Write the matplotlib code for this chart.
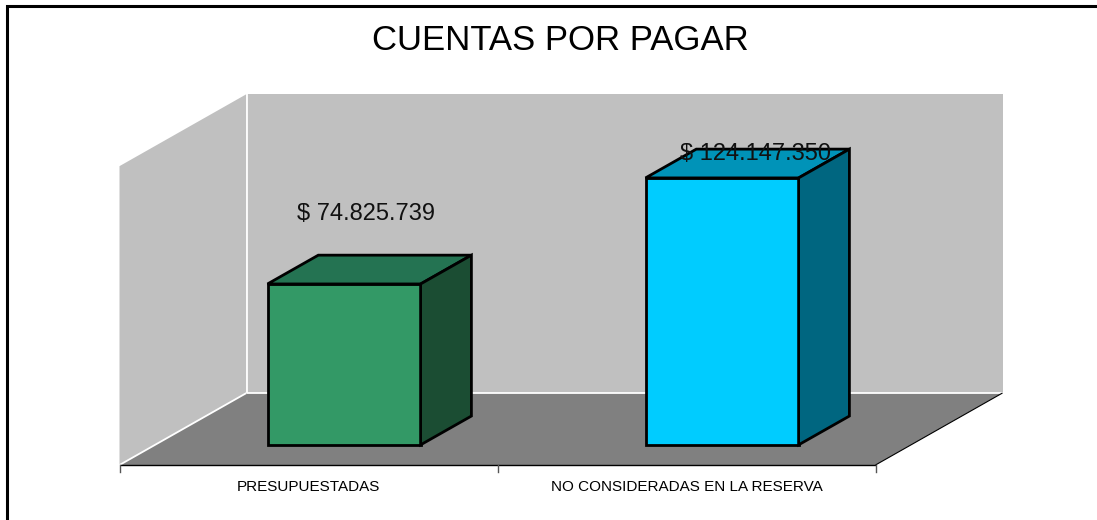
import matplotlib
matplotlib.use("Agg")
import matplotlib.pyplot as plt
from matplotlib.patches import Polygon, Rectangle

# ---------------- data ----------------
title = "CUENTAS POR PAGAR"
categories = ["PRESUPUESTADAS", "NO CONSIDERADAS EN LA RESERVA"]
values = [74825739, 124147350]
front_colors = ["#339966", "#00CCFF"]
top_colors = ["#247352", "#0093B8"]
side_colors = ["#1B4D33", "#006680"]

# ---------------- layout ----------------
W, H = 1097, 520
PX_PER_CAT = 378.0          # pixels between categories
CAT0_PX = 308.5             # pixel x of first category (front plane)
PX_PER_UNIT = 2.15e-6       # pixels per currency unit
BASE_PX = 55.0              # pixel y (from bottom) of front floor edge
DEPTH_DX_PX, DEPTH_DY_PX = 127.0, 72.0
VMAX = 139e6                # wall height (value units)
BAR_HALF = 0.2025
BAR_D0, BAR_D1 = 0.28, 0.68
label_offsets_px = [(-3, 56), (8, 10)]

fig = plt.figure(figsize=(W / 100, H / 100), dpi=100)
ax = fig.add_axes([0, 0, 1, 1])
ax.set_xlim(-CAT0_PX / PX_PER_CAT, (W - CAT0_PX) / PX_PER_CAT)
ax.set_ylim(-BASE_PX / PX_PER_UNIT, (H - BASE_PX) / PX_PER_UNIT)
ax.axis("off")

DXD = DEPTH_DX_PX / PX_PER_CAT
DYD = DEPTH_DY_PX / PX_PER_UNIT


def proj(x, v, d):
    return (x + d * DXD, v + d * DYD)


def face(pts, fc, ec="none", lw=0, z=1):
    ax.add_patch(Polygon([proj(*p) for p in pts], closed=True, facecolor=fc,
                         edgecolor=ec, linewidth=lw, zorder=z, joinstyle="miter"))


def line(p1, p2, color, lw, z=2):
    a, b = proj(*p1), proj(*p2)
    ax.plot([a[0], b[0]], [a[1], b[1]], color=color, lw=lw, zorder=z,
            solid_capstyle="butt")


xl, xr = -0.5, len(categories) - 0.5

# walls and floor
face([(xl, 0, 1), (xr, 0, 1), (xr, VMAX, 1), (xl, VMAX, 1)], "#C0C0C0")
face([(xl, 0, 0), (xl, 0, 1), (xl, VMAX, 1), (xl, VMAX, 0)], "#C0C0C0")
face([(xl, 0, 0), (xr, 0, 0), (xr, 0, 1), (xl, 0, 1)], "#808080")
line((xl, 0, 1), (xl, VMAX, 1), "white", 1.3)
line((xl, 0, 1), (xr, 0, 1), "white", 1.3)
line((xl, 0, 0), (xl, 0, 1), "white", 1.3)
line((xr, 0, 0), (xr, 0, 1), "black", 0.8)
line((xl, 0, 0), (xr, 0, 0), "black", 1.0)
tick_len = 7 / PX_PER_UNIT
for k in range(len(categories) + 1):
    xt = xl + k
    ax.plot([xt, xt], [0, -tick_len], color="#555555", lw=1.0, zorder=2)

# bars
for i, (val, fc, tc, sc) in enumerate(zip(values, front_colors, top_colors, side_colors)):
    x0, x1 = i - BAR_HALF, i + BAR_HALF
    lw = 2.0
    face([(x0, 0, BAR_D0), (x1, 0, BAR_D0), (x1, val, BAR_D0), (x0, val, BAR_D0)],
         fc, "black", lw, 3)
    face([(x0, val, BAR_D0), (x1, val, BAR_D0), (x1, val, BAR_D1), (x0, val, BAR_D1)],
         tc, "black", lw, 3)
    face([(x1, 0, BAR_D0), (x1, 0, BAR_D1), (x1, val, BAR_D1), (x1, val, BAR_D0)],
         sc, "black", lw, 3)
    dm = (BAR_D0 + BAR_D1) / 2
    ax.annotate("$ " + f"{val:,}".replace(",", "."), xy=proj(i, val, dm),
                xytext=label_offsets_px[i], textcoords="offset pixels",
                ha="center", va="center", fontsize=17, family="Liberation Sans",
                color="#111111", zorder=5)
    ax.annotate(categories[i], xy=(i, 0), xytext=(0, -22), textcoords="offset pixels",
                ha="center", va="center", fontsize=11, family="Liberation Sans",
                color="black", zorder=5)

# title
fig.text(560 / W, 1 - 41 / H, title, ha="center", va="center", fontsize=25,
         family="Liberation Sans", color="black")

# outer frame
fig.patches.append(Rectangle((7 / W, -0.1), 1.2, 1.1 - 6 / H, transform=fig.transFigure,
                             fill=False, edgecolor="black", linewidth=2.2, clip_on=False))

fig.savefig("out.png", dpi=100)
